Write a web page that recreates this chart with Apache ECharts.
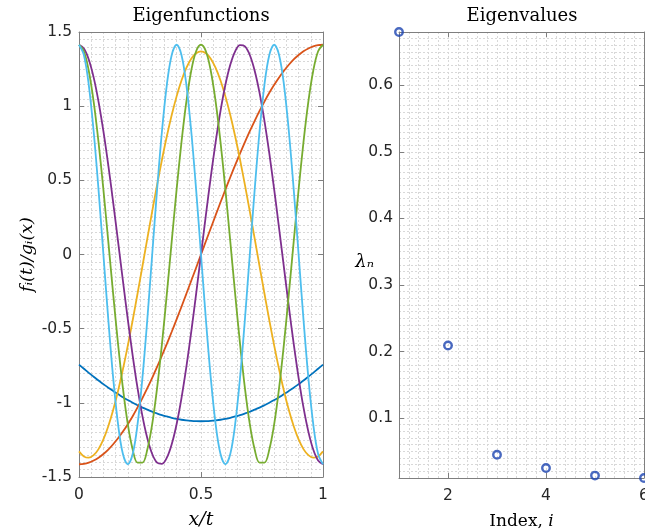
<!DOCTYPE html>
<html>
<head>
<meta charset="utf-8">
<script src="https://cdn.jsdelivr.net/npm/echarts@6/dist/echarts.min.js"></script>
<style>
  html, body { margin: 0; padding: 0; background: #ffffff; }
  #chart { width: 645px; height: 532px; }
</style>
</head>
<body>
<div id="chart"></div>
<script>
// Sample positions along x/t for the eigenfunction curves
const xs = [0,0.02,0.04,0.06,0.08,0.1,0.12,0.14,0.16,0.18,0.2,0.22,0.24,0.26,0.28,0.3,0.32,0.34,0.36,0.38,0.4,
  0.42,0.44,0.46,0.48,0.5,0.52,0.54,0.56,0.58,0.6,0.62,0.64,0.66,0.68,0.7,0.72,0.74,0.76,0.78,0.8,
  0.82,0.84,0.86,0.88,0.9,0.92,0.94,0.96,0.98,1];

// Eigenfunction values f_i(t)/g_i(x), one array per mode
const mode1 = [-0.742,-0.770,-0.798,-0.824,-0.850,-0.874,-0.898,-0.920,-0.941,-0.962,-0.981,-0.999,-1.016,-1.032,-1.046,-1.060,-1.072,-1.083,-1.092,-1.101,-1.108,-1.114,-1.118,-1.121,-1.123,-1.124,
  -1.123,-1.121,-1.118,-1.114,-1.108,-1.101,-1.092,-1.083,-1.072,-1.060,-1.046,-1.032,-1.016,-0.999,-0.981,-0.962,-0.941,-0.920,-0.898,-0.874,-0.850,-0.824,-0.798,-0.770,-0.742];
const mode2 = [-1.414,-1.411,-1.403,-1.389,-1.370,-1.345,-1.315,-1.279,-1.239,-1.194,-1.144,-1.090,-1.031,-0.968,-0.901,-0.831,-0.758,-0.681,-0.602,-0.521,-0.437,-0.352,-0.265,-0.177,-0.089,0,
  0.089,0.177,0.265,0.352,0.437,0.521,0.602,0.681,0.758,0.831,0.901,0.968,1.031,1.090,1.144,1.194,1.239,1.279,1.315,1.345,1.370,1.389,1.403,1.411,1.414];
const mode3 = [-1.327,-1.361,-1.370,-1.353,-1.312,-1.247,-1.158,-1.049,-0.920,-0.774,-0.614,-0.443,-0.263,-0.079,0.107,0.291,0.469,0.639,0.797,0.940,1.066,1.173,1.258,1.320,1.357,1.370,
  1.357,1.320,1.258,1.173,1.066,0.940,0.797,0.639,0.469,0.291,0.107,-0.079,-0.263,-0.443,-0.614,-0.774,-0.920,-1.049,-1.158,-1.247,-1.312,-1.353,-1.370,-1.361,-1.327];
const mode4 = [1.414,1.389,1.315,1.194,1.031,0.831,0.602,0.352,0.089,-0.177,-0.437,-0.681,-0.901,-1.090,-1.239,-1.345,-1.403,-1.411,-1.370,-1.279,-1.144,-0.968,-0.758,-0.521,-0.265,0,
  0.265,0.521,0.758,0.968,1.144,1.279,1.370,1.411,1.403,1.345,1.239,1.090,0.901,0.681,0.437,0.177,-0.089,-0.352,-0.602,-0.831,-1.031,-1.194,-1.315,-1.389,-1.414];
const mode5 = [1.414,1.370,1.239,1.031,0.758,0.437,0.089,-0.265,-0.602,-0.901,-1.144,-1.315,-1.403,-1.403,-1.315,-1.144,-0.901,-0.602,-0.265,0.089,0.437,0.758,1.031,1.239,1.370,1.414,
  1.370,1.239,1.031,0.758,0.437,0.089,-0.265,-0.602,-0.901,-1.144,-1.315,-1.403,-1.403,-1.315,-1.144,-0.901,-0.602,-0.265,0.089,0.437,0.758,1.031,1.239,1.370,1.414];
const mode6 = [1.414,1.345,1.144,0.831,0.437,0,-0.437,-0.831,-1.144,-1.345,-1.414,-1.345,-1.144,-0.831,-0.437,0,0.437,0.831,1.144,1.345,1.414,
  1.345,1.144,0.831,0.437,0,-0.437,-0.831,-1.144,-1.345,-1.414,-1.345,-1.144,-0.831,-0.437,0,0.437,0.831,1.144,1.345,1.414,
  1.345,1.144,0.831,0.437,0,-0.437,-0.831,-1.144,-1.345,-1.414];

// Eigenvalues against their index
const eigIndex = [1, 2, 3, 4, 5, 6];
const eigVals = [0.68, 0.209, 0.045, 0.025, 0.0136, 0.0100];

// Tick positions and labels
const fnXLabels = [0, 0.5, 1];
const fnXTicks = [0.5];
const fnYLabels = [-1.5, -1, -0.5, 0, 0.5, 1, 1.5];
const fnYTicks = [-1, -0.5, 0, 0.5, 1];
const evXLabels = [2, 4, 6];
const evYLabels = [0.1, 0.2, 0.3, 0.4, 0.5, 0.6];

const modes = [mode1, mode2, mode3, mode4, mode5, mode6];
const modeColors = ['#0072BD', '#D95319', '#EDB120', '#7E2F8E', '#77AC30', '#4DBEEE'];
const markerColor = '#1c44b0';

const FRAME = '#7f7f7f';
const GRID = '#d8d8d8';
const tickFont = { fontFamily: 'DejaVu Sans', fontSize: 15.5, color: '#262626' };
const mathFont = { fontFamily: 'DejaVu Serif', fontStyle: 'italic', fontSize: 18, color: '#000' };
const titleFont = { fontFamily: 'DejaVu Serif', fontSize: 18, fontWeight: 'normal', color: '#000' };

// One side of an axes box: line, inward ticks and optional labels
function side(o) {
  return Object.assign({
    type: 'value',
    gridIndex: o.grid,
    position: o.position,
    min: o.min,
    max: o.max,
    nameMoveOverlap: false,
    axisLine: { show: true, onZero: false, lineStyle: { color: FRAME, width: 1 } },
    axisTick: { show: true, inside: true, length: 5, customValues: o.ticks, lineStyle: { color: FRAME, width: 1 } },
    axisLabel: o.labels
      ? Object.assign({ show: true, customValues: o.labels, margin: o.margin }, tickFont)
      : { show: false },
    splitLine: { show: false },
    minorTick: { show: false },
    minorSplitLine: { show: false }
  }, o.extra || {});
}

// Hidden axis that only draws the fine dotted grid
function gridLines(grid, position, min, max, interval) {
  return {
    type: 'value',
    gridIndex: grid,
    position: position,
    min: min,
    max: max,
    interval: interval,
    z: 0,
    axisLine: { show: false, onZero: false },
    axisTick: { show: false },
    axisLabel: { show: false },
    splitLine: { show: true, lineStyle: { color: GRID, width: 1, type: [2, 2] } }
  };
}

const chart = echarts.init(document.getElementById('chart'), null, { renderer: 'canvas' });

const option = {
  animation: false,
  backgroundColor: '#ffffff',
  title: [
    { text: 'Eigenfunctions', left: 201, top: 7, padding: 0, textAlign: 'center', textStyle: titleFont },
    { text: 'Eigenvalues', left: 522, top: 7, padding: 0, textAlign: 'center', textStyle: titleFont }
  ],
  grid: [
    { left: 79, top: 32, width: 244, height: 445, containLabel: false, outerBoundsMode: 'none' },
    { left: 399, top: 32, width: 245, height: 446, containLabel: false, outerBoundsMode: 'none' }
  ],
  xAxis: [
    side({ grid: 0, position: 'bottom', min: 0, max: 1, ticks: fnXTicks, labels: fnXLabels, margin: 10,
      extra: { name: 'x/t', nameLocation: 'middle', nameGap: 34, nameTextStyle: Object.assign({}, mathFont, { fontSize: 19 }) } }),
    side({ grid: 0, position: 'top', min: 0, max: 1, ticks: fnXTicks }),
    gridLines(0, 'bottom', 0, 1, 0.05),
    side({ grid: 1, position: 'bottom', min: 1, max: 6, ticks: evXLabels, labels: evXLabels, margin: 10,
      extra: { name: '{r|Index, }{i|i}', nameLocation: 'middle', nameGap: 35,
        nameTextStyle: { rich: { r: { fontFamily: 'DejaVu Serif', fontSize: 17, color: '#000' },
                                 i: { fontFamily: 'DejaVu Serif', fontStyle: 'italic', fontSize: 17, color: '#000' } } } } }),
    side({ grid: 1, position: 'top', min: 1, max: 6, ticks: evXLabels }),
    gridLines(1, 'bottom', 1, 6, 0.2)
  ],
  yAxis: [
    side({ grid: 0, position: 'left', min: -1.5, max: 1.5, ticks: fnYTicks, labels: fnYLabels, margin: 7,
      extra: { name: 'f\u1D62(t)/g\u1D62(x)', nameLocation: 'middle', nameGap: 43, nameTextStyle: Object.assign({}, mathFont, { fontSize: 17.5 }) } }),
    side({ grid: 0, position: 'right', min: -1.5, max: 1.5, ticks: fnYTicks }),
    gridLines(0, 'left', -1.5, 1.5, 0.05),
    side({ grid: 1, position: 'left', min: 0.01, max: 0.68, ticks: evYLabels, labels: evYLabels, margin: 6,
      extra: { name: '\u03BB\u2099', nameLocation: 'middle', nameRotate: 0, nameGap: 25,
        nameTextStyle: Object.assign({}, mathFont, { verticalAlign: 'top', lineHeight: 14 }) } }),
    side({ grid: 1, position: 'right', min: 0.01, max: 0.68, ticks: evYLabels }),
    gridLines(1, 'left', 0.01, 0.68, 0.01)
  ],
  series: modes.map((vals, i) => ({
    type: 'line',
    xAxisIndex: 0,
    yAxisIndex: 0,
    data: xs.map((x, k) => [x, vals[k]]),
    symbol: 'none',
    showSymbol: false,
    smooth: 0.35,
    clip: true,
    silent: true,
    lineStyle: { color: modeColors[i], width: 1.8 },
    itemStyle: { color: modeColors[i] }
  })).concat([{
    type: 'scatter',
    xAxisIndex: 3,
    yAxisIndex: 3,
    data: eigIndex.map((n, i) => [n, eigVals[i]]),
    symbol: 'circle',
    symbolSize: 7.5,
    clip: false,
    silent: true,
    z: 5,
    itemStyle: { color: 'rgba(255,255,255,0)', borderColor: markerColor, borderWidth: 2.4 }
  }])
};

chart.setOption(option);
</script>
</body>
</html>
